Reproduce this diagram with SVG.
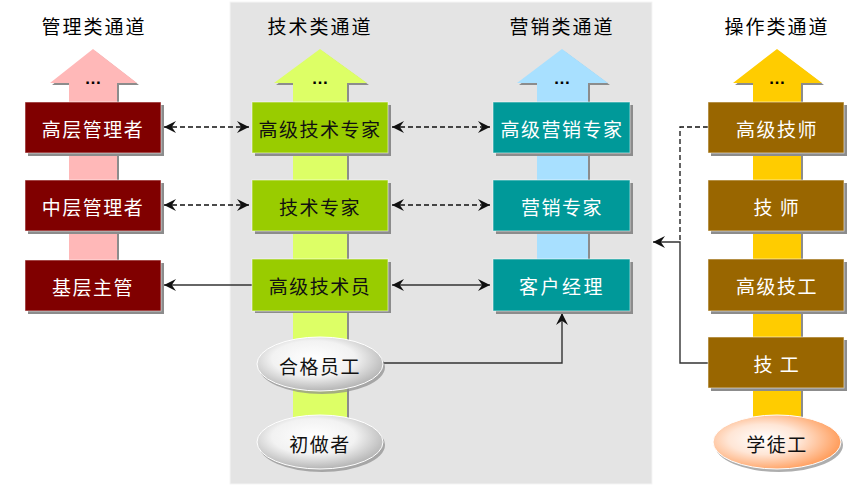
<svg xmlns="http://www.w3.org/2000/svg" width="865" height="486" viewBox="0 0 865 486">
<defs>
<style>
.title{font-family:"Noto Sans CJK SC","Liberation Sans",sans-serif;font-size:19px;fill:#000;text-anchor:middle;letter-spacing:2px}
.lbl{font-family:"Noto Sans CJK SC","Liberation Sans",sans-serif;font-size:19px;text-anchor:middle;dominant-baseline:central;letter-spacing:1.5px}
.w{fill:#fff}
.k{fill:#111}
.dots{font-family:"Liberation Sans",sans-serif;font-size:17px;font-weight:bold;fill:#000;text-anchor:middle}
.shadow{fill:#8c8c8c}
.box{stroke:#ffffff;stroke-opacity:0.55;stroke-width:1}
.mg{fill:#800000}
.tc{fill:#99cc00}
.mk{fill:#009999}
.op{fill:#996600}
.dash{fill:none;stroke:#111;stroke-width:1.3;stroke-dasharray:5 3}
.solid{fill:none;stroke:#333;stroke-width:1.4}
</style>
<marker id="ah" viewBox="0 0 10 10" refX="10" refY="5" markerWidth="12" markerHeight="12" markerUnits="userSpaceOnUse" orient="auto-start-reverse">
<path d="M0,0 L10,5 L0,10 L3.5,5 Z" fill="#111"/>
</marker>
<radialGradient id="silver" cx="0.45" cy="0.4" r="0.6">
<stop offset="0" stop-color="#ffffff"/>
<stop offset="0.55" stop-color="#f2f2f2"/>
<stop offset="1" stop-color="#b5b5b5"/>
</radialGradient>
<radialGradient id="orange" cx="0.4" cy="0.45" r="0.62">
<stop offset="0" stop-color="#ffffff"/>
<stop offset="0.45" stop-color="#ffe6d6"/>
<stop offset="1" stop-color="#ff9955"/>
</radialGradient>
</defs>

<rect x="230" y="2" width="422" height="482" fill="#e4e4e4" stroke="#f5f5f5" stroke-width="1"/>

<g id="titles">
<text class="title" x="94" y="34">管理类通道</text>
<text class="title" x="320" y="34">技术类通道</text>
<text class="title" x="562" y="34">营销类通道</text>
<text class="title" x="777" y="34">操作类通道</text>
</g>

<g id="arrow-mgmt">
<polygon class="shadow" transform="translate(2,2)" points="93,49 137,83 117,83 117,260 69,260 69,83 50,83"/>
<polygon fill="#ffb8b8" points="93,49 137,83 117,83 117,260 69,260 69,83 50,83"/>
<text class="dots" x="93" y="84">…</text>
</g>
<g id="arrow-tech">
<polygon class="shadow" transform="translate(2,2)" points="320,49 367,83 347,83 347,430 293,430 293,83 274,83"/>
<polygon fill="#ddff66" points="320,49 367,83 347,83 347,430 293,430 293,83 274,83"/>
<text class="dots" x="320" y="84">…</text>
</g>
<g id="arrow-mkt">
<polygon class="shadow" transform="translate(2,2)" points="562,49 608,83 588,83 588,259 537,259 537,83 517,83"/>
<polygon fill="#a8e0ff" points="562,49 608,83 588,83 588,259 537,259 537,83 517,83"/>
<text class="dots" x="562" y="84">…</text>
</g>
<g id="arrow-op">
<polygon class="shadow" transform="translate(2,2)" points="777,49 822,83 801,83 801,430 753,430 753,83 733,83"/>
<polygon fill="#ffcc00" points="777,49 822,83 801,83 801,430 753,430 753,83 733,83"/>
<text class="dots" x="777" y="84">…</text>
</g>

<g id="connectors">
<line class="dash" x1="164" y1="127" x2="249" y2="127" marker-start="url(#ah)" marker-end="url(#ah)"/>
<line class="dash" x1="164" y1="205" x2="249" y2="205" marker-start="url(#ah)" marker-end="url(#ah)"/>
<line class="dash" x1="392" y1="127" x2="490" y2="127" marker-start="url(#ah)" marker-end="url(#ah)"/>
<line class="dash" x1="392" y1="205" x2="490" y2="205" marker-start="url(#ah)" marker-end="url(#ah)"/>
<line class="solid" x1="252" y1="285" x2="164" y2="285" marker-end="url(#ah)"/>
<line class="solid" x1="392" y1="285" x2="490" y2="285" marker-start="url(#ah)" marker-end="url(#ah)"/>
<path class="solid" d="M383,363 H562 V313" marker-end="url(#ah)"/>
<path class="solid" d="M708,363 H680 V242 H653" marker-end="url(#ah)"/>
<path class="dash" d="M708,127 H680 V242"/>
</g>

<g id="n-gaocengguanli">
<rect class="shadow" x="28" y="105" width="136" height="51"/>
<rect class="box mg" x="25" y="102" width="136" height="51"/>
<text class="lbl w" x="93" y="128">高层管理者</text>
</g>
<g id="n-zhongcengguanli">
<rect class="shadow" x="28" y="183" width="136" height="51"/>
<rect class="box mg" x="25" y="180" width="136" height="51"/>
<text class="lbl w" x="93" y="206">中层管理者</text>
</g>
<g id="n-jicengzhuguan">
<rect class="shadow" x="28" y="263" width="136" height="51"/>
<rect class="box mg" x="25" y="260" width="136" height="51"/>
<text class="lbl w" x="93" y="286">基层主管</text>
</g>

<g id="n-gaojijishuzhuanjia">
<rect class="shadow" x="255" y="105" width="136" height="51"/>
<rect class="box tc" x="252" y="102" width="136" height="51"/>
<text class="lbl k" x="320" y="128">高级技术专家</text>
</g>
<g id="n-jishuzhuanjia">
<rect class="shadow" x="255" y="183" width="136" height="51"/>
<rect class="box tc" x="252" y="180" width="136" height="51"/>
<text class="lbl k" x="320" y="206">技术专家</text>
</g>
<g id="n-gaojijishuyuan">
<rect class="shadow" x="255" y="262" width="136" height="51"/>
<rect class="box tc" x="252" y="259" width="136" height="52"/>
<text class="lbl k" x="320" y="285">高级技术员</text>
</g>
<g id="n-hegeyuangong">
<ellipse class="shadow" cx="322" cy="367" rx="63" ry="27" opacity="0.7"/>
<ellipse cx="320" cy="364" rx="63" ry="27" fill="url(#silver)" stroke="#ffffff" stroke-width="1"/>
<text class="lbl k" x="320" y="365">合格员工</text>
</g>
<g id="n-chuzuozhe">
<ellipse class="shadow" cx="322" cy="445" rx="63" ry="27" opacity="0.7"/>
<ellipse cx="320" cy="442" rx="63" ry="27" fill="url(#silver)" stroke="#ffffff" stroke-width="1"/>
<text class="lbl k" x="320" y="443">初做者</text>
</g>

<g id="n-gaojiyingxiaozhuanjia">
<rect class="shadow" x="496" y="105" width="137" height="51"/>
<rect class="box mk" x="493" y="102" width="137" height="51"/>
<text class="lbl w" x="562" y="128">高级营销专家</text>
</g>
<g id="n-yingxiaozhuanjia">
<rect class="shadow" x="496" y="183" width="137" height="51"/>
<rect class="box mk" x="493" y="180" width="137" height="51"/>
<text class="lbl w" x="562" y="206">营销专家</text>
</g>
<g id="n-kehujingli">
<rect class="shadow" x="496" y="262" width="137" height="52"/>
<rect class="box mk" x="493" y="259" width="137" height="52"/>
<text class="lbl w" x="562" y="285" style="letter-spacing:2.5px">客户经理</text>
</g>

<g id="n-gaojijishi">
<rect class="shadow" x="711" y="105" width="136" height="51"/>
<rect class="box op" x="708" y="102" width="136" height="51"/>
<text class="lbl w" x="777" y="128">高级技师</text>
</g>
<g id="n-jishi">
<rect class="shadow" x="711" y="183" width="136" height="51"/>
<rect class="box op" x="708" y="180" width="136" height="51"/>
<text class="lbl w" x="777" y="206">技 师</text>
</g>
<g id="n-gaojijigong">
<rect class="shadow" x="711" y="262" width="136" height="52"/>
<rect class="box op" x="708" y="259" width="136" height="52"/>
<text class="lbl w" x="777" y="285">高级技工</text>
</g>
<g id="n-jigong">
<rect class="shadow" x="711" y="340" width="136" height="51"/>
<rect class="box op" x="708" y="337" width="136" height="51"/>
<text class="lbl w" x="777" y="363">技 工</text>
</g>
<g id="n-xuetugong">
<ellipse class="shadow" cx="779" cy="445" rx="64" ry="27" opacity="0.7"/>
<ellipse cx="777" cy="442" rx="64" ry="27" fill="url(#orange)" stroke="#ffffff" stroke-width="1"/>
<text class="lbl k" x="777" y="443">学徒工</text>
</g>
</svg>
